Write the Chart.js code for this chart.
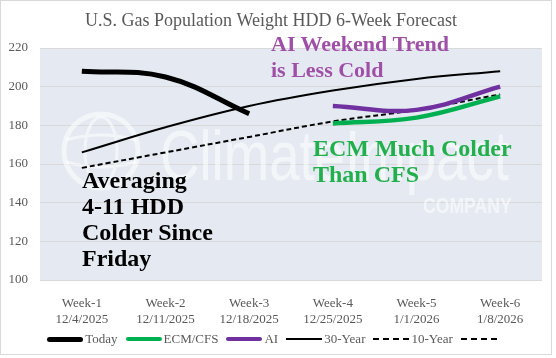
<!DOCTYPE html>
<html>
<head>
<meta charset="utf-8">
<script src="https://cdn.jsdelivr.net/npm/chart.js@4.4.1/dist/chart.umd.min.js"></script>
<style>
  body { margin: 0; background: #fff; }
  #wrap { position: relative; width: 556px; height: 358px; }
  #frame { position: absolute; left: 0; top: 0; width: 552px; height: 355px; box-sizing: border-box; border: 1px solid #d9d9d9; pointer-events: none; }
  canvas { position: absolute; left: 0; top: 0; }
  .note { position: absolute; font-family: "Liberation Serif", "Times New Roman", serif; font-weight: bold; white-space: nowrap; }
  #legend { position: absolute; left: 0; width: 546px; top: 331px; height: 16px; display: flex; justify-content: center; align-items: center;
    font-family: "Liberation Serif", "Times New Roman", serif; font-size: 13px; color: #595959; }
  .item { display: flex; align-items: center; margin: 0 4px; }
  .swatch { width: 36px; height: 0; margin-right: 2px; }
</style>
</head>
<body>
<div id="wrap">
  <canvas id="myChart" width="552" height="355"></canvas>
  <div id="frame"></div>
  <div class="note" style="left:271px; top:31px; font-size:22px; line-height:26px; color:#a04fa8;">AI Weekend Trend<br>is Less Cold</div>
  <div class="note" style="left:313px; top:135px; font-size:24px; line-height:26px; color:#22b04c;">ECM Much Colder<br>Than CFS</div>
  <div class="note" style="left:82px; top:167px; font-size:24px; line-height:26px; color:#000;">Averaging<br>4-11 HDD<br>Colder Since<br>Friday</div>
  <div id="legend"></div>
</div>
<script>
/* global Chart */

let weeks = ["Week-1", "Week-2", "Week-3", "Week-4", "Week-5", "Week-6"];
let dates = ["12/4/2025", "12/11/2025", "12/18/2025", "12/25/2025", "1/1/2026", "1/8/2026"];

let today = [208, 205, 186, null, null, null];
let ecmCfs = [null, null, null, 181, 184, 195];
let ai = [null, null, null, 190, 188, 200];
let year30 = [166, 179, 190, 198, 204, 208];
let year10 = [158, 166, 174, 182, 188, 196];
let extra = [null, null, null, null, null, null];

let yTicks = [100, 120, 140, 160, 180, 200, 220];

Chart.defaults.font.family = "'Liberation Serif', 'Times New Roman', serif";
Chart.defaults.color = "#595959";

// plot background + faint logo watermark
const backdrop = {
  id: "backdrop",
  beforeDraw(chart) {
    const { ctx, chartArea: a } = chart;
    ctx.save();
    ctx.fillStyle = "#e5eaf2";
    ctx.fillRect(a.left, a.top, a.right - a.left, a.bottom - a.top);
    ctx.restore();
  },
  beforeDatasetsDraw(chart) {
    const ctx = chart.ctx;
    ctx.save();
    ctx.globalAlpha = 0.55;
    ctx.strokeStyle = "#fff";
    ctx.fillStyle = "#fff";
    ctx.lineWidth = 5;
    ctx.beginPath();
    ctx.arc(101, 151, 37, 0, Math.PI * 2);
    ctx.stroke();
    ctx.lineWidth = 3;
    ctx.beginPath();
    ctx.ellipse(101, 151, 16, 34, 0, 0, Math.PI * 2);
    ctx.moveTo(66, 140); ctx.quadraticCurveTo(101, 130, 136, 140);
    ctx.moveTo(66, 162); ctx.quadraticCurveTo(101, 172, 136, 162);
    ctx.stroke();
    ctx.translate(160, 180);
    ctx.scale(0.78, 1);
    ctx.font = "70px 'Liberation Sans', Arial, sans-serif";
    ctx.fillText("ClimateImpact", 0, 0);
    ctx.setTransform(1, 0, 0, 1, 0, 0);
    ctx.translate(423, 213);
    ctx.scale(0.8, 1);
    ctx.font = "bold 22px 'Liberation Sans', Arial, sans-serif";
    ctx.fillText("COMPANY", 0, 0);
    ctx.restore();
  }
};

function series(label, data, color, width, dash) {
  return {
    label: label,
    data: data,
    borderColor: color,
    backgroundColor: color,
    borderWidth: width,
    borderDash: dash || [],
    pointRadius: 0,
    tension: 0.4,
    spanGaps: false
  };
}

buildChart();

function buildChart() {
  var ctx = document.getElementById("myChart").getContext("2d");
  var myChart = new Chart(ctx, {
    type: "line",
    data: {
      labels: weeks.map((w, i) => [w, dates[i]]),
      datasets: [
        series("Today", today, "#000000", 5),
        series("ECM/CFS", ecmCfs, "#00b050", 4.5),
        series("AI", ai, "#7030a0", 4.5),
        series("30-Year", year30, "#000000", 2),
        series("10-Year", year10, "#000000", 2, [5, 3]),
        series("", extra, "#000000", 2, [5, 3])
      ]
    },
    options: {
      responsive: false,
      animation: false,
      layout: { padding: { left: 0, right: 10, top: 0, bottom: 0 } },
      plugins: {
        legend: { display: false },
        tooltip: { enabled: false },
        title: {
          display: true,
          text: "U.S. Gas Population Weight HDD 6-Week Forecast",
          color: "#595959",
          font: { size: 18, weight: "normal", lineHeight: 1.2 },
          padding: { top: 10, bottom: 16.4 }
        }
      },
      scales: {
        x: {
          offset: true,
          grid: { display: false, offset: true },
          border: { display: false },
          ticks: { font: { size: 13, lineHeight: 1.2 }, padding: 8, maxRotation: 0 },
          afterFit(scale) { scale.height = 75; }
        },
        y: {
          min: yTicks[0],
          max: yTicks[yTicks.length - 1],
          afterBuildTicks(scale) { scale.ticks = yTicks.map(v => ({ value: v })); },
          grid: { color: "#d9d9d9", drawTicks: false },
          border: { display: false },
          ticks: { font: { size: 13 }, padding: 12 },
          afterFit(scale) { scale.width = 40; }
        }
      }
    },
    plugins: [backdrop]
  });

  // legend as html, built from the datasets
  const legend = document.getElementById("legend");
  myChart.data.datasets.forEach(ds => {
    const item = document.createElement("div");
    item.className = "item";
    const sw = document.createElement("div");
    sw.className = "swatch";
    const style = ds.borderDash.length ? "dashed" : "solid";
    sw.style.borderTop = ds.borderWidth + "px " + style + " " + ds.borderColor;
    if (ds.borderWidth > 3) sw.style.borderRadius = "3px";
    item.appendChild(sw);
    const txt = document.createElement("span");
    txt.textContent = ds.label;
    item.appendChild(txt);
    legend.appendChild(item);
  });
}
</script>
</body>
</html>
